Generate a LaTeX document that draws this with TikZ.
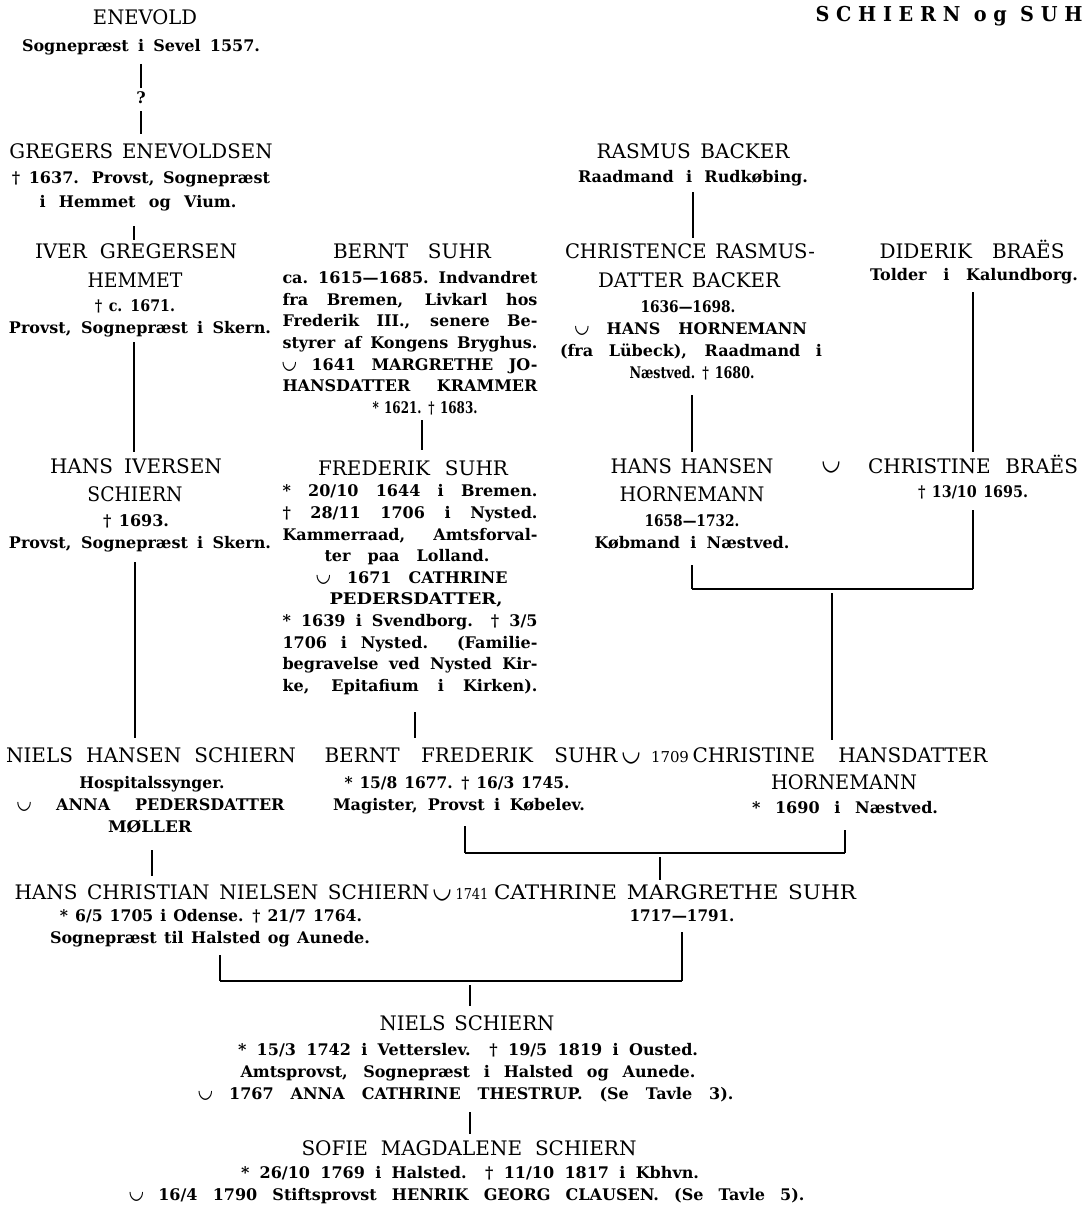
\documentclass[tikz,border=0pt]{standalone}
\usepackage{fontspec}
\usepackage{graphicx}
\setmainfont{DejaVu Serif}
\newfontfamily\giftfont{DejaVu Sans}
\newfontfamily\titlefont[LetterSpace=35]{DejaVu Serif}
\newcommand\nmfont{\fontsize{20}{24}\selectfont\spaceskip=0.45em plus 3em minus 0.1em\relax}
\newcommand\smfont{\fontsize{15}{18}\selectfont}
\newcommand\dtfont{\bfseries\fontsize{16}{19}\selectfont\spaceskip=0.45em plus 3em minus 0.1em\relax}
\newcommand\gift{\raisebox{0.1em}{\resizebox{0.85em}{0.38em}{\giftfont\bfseries ◡}}}
\newcommand\fitJ[2]{\setbox0=\hbox{#2}\ifdim\wd0>#1pt\relax\resizebox{#1pt}{\height}{#2}\else\makebox[#1pt][s]{#2}\fi}
\newcommand\LnR[6]{\node[#1] (#2) at (#3,#4) {\resizebox{#5pt}{\height}{#6}};}
\newcommand\LnJ[6]{\node[#1] (#2) at (#3,#4) {\fitJ{#5}{#6}};}
\tikzset{
  nm/.style={font=\nmfont, anchor=base, inner sep=0pt},
  sm/.style={font=\smfont, anchor=base, inner sep=0pt},
  dt/.style={font=\dtfont, anchor=base, inner sep=0pt},
  conn/.style={line width=1.8pt},
  bar/.style={line width=2.2pt}
}
\begin{document}
\begin{tikzpicture}[x=1pt,y=-1pt]
\useasboundingbox[fill=white] (0,0) rectangle (1084,1207);
% title
\node[anchor=base, inner sep=0pt] (title) at (949,22) {\resizebox{267pt}{\height}{\titlefont\bfseries\fontsize{20.5}{24}\selectfont SCHIERN og SUH}};
% column 1
\LnR{nm}{ene1}{145}{25}{104}{ENEVOLD}
\LnJ{dt}{ene2}{141}{52}{238}{Sognepræst i Sevel 1557.}
\node[dt] (q) at (141,103) {?};
\LnJ{nm}{gre1}{141}{158}{263}{GREGERS ENEVOLDSEN}
\LnJ{dt}{gre2}{141}{183}{258}{† 1637. Provst, Sognepræst}
\LnJ{dt}{gre3}{138}{207}{197}{i Hemmet og Vium.}
\LnJ{nm}{ive1}{136}{258}{202}{IVER GREGERSEN}
\LnR{nm}{ive2}{135}{287}{95}{HEMMET}
\LnJ{dt}{ive3}{135}{311}{80}{† c. 1671.}
\LnJ{dt}{ive4}{140}{333}{262}{Provst, Sognepræst i Skern.}
\LnJ{nm}{hiv1}{136}{473}{172}{HANS IVERSEN}
\LnR{nm}{hiv2}{135}{501}{95}{SCHIERN}
\LnJ{dt}{hiv3}{136}{526}{66}{† 1693.}
\LnJ{dt}{hiv4}{140}{548}{262}{Provst, Sognepræst i Skern.}
\LnJ{nm}{nhs1}{151}{762}{290}{NIELS HANSEN SCHIERN}
\LnR{dt}{nhs2}{152}{788}{145}{Hospitalssynger.}
\LnJ{dt}{nhs3}{151}{810}{267}{\gift\ ANNA PEDERSDATTER}
\LnR{dt}{nhs4}{150}{832}{84}{MØLLER}
% row F
\LnJ{nm}{hcs1}{222}{899}{415}{HANS CHRISTIAN NIELSEN SCHIERN}
\node[nm] (hcsg) at (442,899) {\gift};
\LnR{sm}{hcsy}{472}{899}{33}{1741}
\LnR{nm}{cms1}{675}{899}{362}{CATHRINE MARGRETHE SUHR}
\LnJ{dt}{hcs2}{211}{921}{302}{* 6/5 1705 i Odense. † 21/7 1764.}
\LnJ{dt}{hcs3}{210}{943}{320}{Sognepræst til Halsted og Aunede.}
\LnR{dt}{cms2}{682}{921}{105}{1717—1791.}
% Niels Schiern
\LnJ{nm}{ns1}{467}{1030}{175}{NIELS SCHIERN}
\LnJ{dt}{ns2}{468}{1055}{460}{* 15/3 1742 i Vetterslev. † 19/5 1819 i Ousted.}
\LnJ{dt}{ns3}{468}{1077}{455}{Amtsprovst, Sognepræst i Halsted og Aunede.}
\LnJ{dt}{ns4}{466}{1099}{535}{\gift\ 1767 ANNA CATHRINE THESTRUP. (Se Tavle 3).}
\LnJ{nm}{sm1}{469}{1155}{335}{SOFIE MAGDALENE SCHIERN}
\LnJ{dt}{sm2}{470}{1178}{458}{* 26/10 1769 i Halsted. † 11/10 1817 i Kbhvn.}
\LnJ{dt}{sm3}{467}{1200}{675}{\gift\ 16/4 1790 Stiftsprovst HENRIK GEORG CLAUSEN. (Se Tavle 5).}
% column 2
\LnJ{nm}{bs1}{412}{258}{158}{BERNT SUHR}
\LnJ{dt}{bs2}{410}{283}{255}{ca. 1615—1685. Indvandret}
\LnJ{dt}{bs3}{410}{305}{255}{fra Bremen, Livkarl hos}
\LnJ{dt}{bs4}{410}{326}{255}{Frederik III., senere Be-}
\LnJ{dt}{bs5}{410}{348}{255}{styrer af Kongens Bryghus.}
\LnJ{dt}{bs6}{410}{370}{255}{\gift\ 1641 MARGRETHE JO-}
\LnJ{dt}{bs7}{410}{391}{255}{HANSDATTER KRAMMER}
\LnJ{dt}{bs8}{425}{413}{105}{* 1621. † 1683.}
\LnJ{nm}{fs1}{413}{475}{190}{FREDERIK SUHR}
\LnJ{dt}{fs2}{410}{496}{255}{* 20/10 1644 i Bremen.}
\LnJ{dt}{fs3}{410}{518}{255}{† 28/11 1706 i Nysted.}
\LnJ{dt}{fs4}{410}{540}{255}{Kammerraad, Amtsforval-}
\LnJ{dt}{fs5}{407}{561}{165}{ter paa Lolland.}
\LnJ{dt}{fs6}{412}{583}{191}{\gift\ 1671 CATHRINE}
\LnR{dt}{fs7}{416}{604}{173}{PEDERSDATTER,}
\LnJ{dt}{fs8}{410}{626}{255}{* 1639 i Svendborg. † 3/5}
\LnJ{dt}{fs9}{410}{648}{255}{1706 i Nysted. (Familie-}
\LnJ{dt}{fs10}{410}{669}{255}{begravelse ved Nysted Kir-}
\LnJ{dt}{fs11}{410}{691}{255}{ke, Epitafium i Kirken).}
\LnJ{nm}{bf1}{471}{762}{293}{BERNT FREDERIK SUHR}
\node[nm] (bfg) at (631,762) {\gift};
\LnR{sm}{bfy}{670}{762}{38}{1709}
\LnJ{nm}{ch1}{840}{762}{295}{CHRISTINE HANSDATTER}
\LnR{nm}{ch2}{844}{789}{146}{HORNEMANN}
\LnJ{dt}{ch3}{845}{813}{186}{* 1690 i Næstved.}
\LnJ{dt}{bf2}{457}{788}{225}{* 15/8 1677. † 16/3 1745.}
\LnJ{dt}{bf3}{459}{810}{252}{Magister, Provst i Købelev.}
% column 3
\LnJ{nm}{rb1}{693}{158}{193}{RASMUS BACKER}
\LnJ{dt}{rb2}{693}{182}{230}{Raadmand i Rudkøbing.}
\LnJ{nm}{cr1}{690}{258}{250}{CHRISTENCE RASMUS-}
\LnJ{nm}{cr2}{689}{287}{182}{DATTER BACKER}
\LnR{dt}{cr3}{688}{312}{95}{1636—1698.}
\LnJ{dt}{cr4}{691}{334}{232}{\gift\ HANS HORNEMANN}
\LnJ{dt}{cr5}{691}{356}{262}{(fra Lübeck), Raadmand i}
\LnJ{dt}{cr6}{692}{378}{125}{Næstved. † 1680.}
\LnJ{nm}{hh1}{692}{473}{163}{HANS HANSEN}
\LnR{nm}{hh2}{692}{501}{145}{HORNEMANN}
\LnR{dt}{hh3}{692}{526}{95}{1658—1732.}
\LnJ{dt}{hh4}{692}{548}{195}{Købmand i Næstved.}
\node[nm] (hhg) at (831,471) {\gift};
% column 4
\LnJ{nm}{db1}{972}{258}{185}{DIDERIK BRAËS}
\LnJ{dt}{db2}{974}{280}{208}{Tolder i Kalundborg.}
\LnJ{nm}{cb1}{973}{473}{210}{CHRISTINE BRAËS}
\LnJ{dt}{cb2}{973}{497}{110}{† 13/10 1695.}
% connector coordinates
\coordinate (c1a) at (141,64);  \coordinate (c1b) at (141,88);
\coordinate (c2a) at (141,111); \coordinate (c2b) at (141,134);
\coordinate (c3a) at (134,226); \coordinate (c3b) at (134,240);
\coordinate (c4a) at (134,342); \coordinate (c4b) at (134,452);
\coordinate (c5a) at (135,562); \coordinate (c5b) at (135,738);
\coordinate (c6a) at (152,850); \coordinate (c6b) at (152,876);
\coordinate (c7a) at (422,420); \coordinate (c7b) at (422,450);
\coordinate (c8a) at (415,712); \coordinate (c8b) at (415,738);
\coordinate (c9a) at (693,192); \coordinate (c9b) at (693,238);
\coordinate (c10a) at (692,395); \coordinate (c10b) at (692,452);
\coordinate (c11a) at (973,292); \coordinate (c11b) at (973,452);
\coordinate (k1a) at (692,565); \coordinate (k1b) at (692,589);
\coordinate (k1c) at (973,589); \coordinate (k1d) at (973,510);
\coordinate (s1a) at (832,593); \coordinate (s1b) at (832,740);
\coordinate (k2a) at (465,826); \coordinate (k2b) at (465,853);
\coordinate (k2c) at (845,853); \coordinate (k2d) at (845,830);
\coordinate (s2a) at (660,857); \coordinate (s2b) at (660,880);
\coordinate (k3a) at (220,955); \coordinate (k3b) at (220,981);
\coordinate (k3c) at (682,981); \coordinate (k3d) at (682,932);
\coordinate (s3a) at (470,985); \coordinate (s3b) at (470,1006);
\coordinate (c12a) at (470,1112); \coordinate (c12b) at (470,1134);
% connectors
\foreach \p in {c1,c2,c3,c4,c5,c6,c7,c8,c9,c10,c11,s1,s2,s3,c12}
  \draw[conn] (\p a) -- (\p b);
\draw[conn] (k1a) -- (k1b); \draw[conn] (k1c) -- (k1d); \draw[bar] (k1b) -- (k1c);
\draw[conn] (k2a) -- (k2b); \draw[conn] (k2c) -- (k2d); \draw[bar] (k2b) -- (k2c);
\draw[conn] (k3a) -- (k3b); \draw[conn] (k3c) -- (k3d); \draw[bar] (k3b) -- (k3c);
\end{tikzpicture}
\end{document}
